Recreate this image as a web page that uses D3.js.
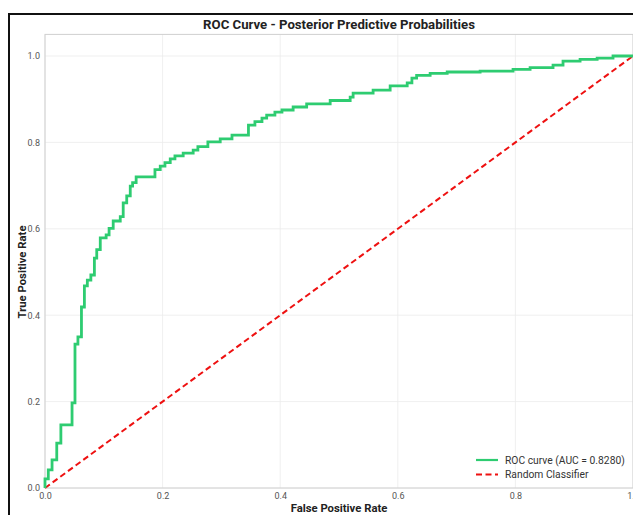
<!DOCTYPE html>
<html><head><meta charset="utf-8">
<script src="https://cdn.jsdelivr.net/npm/d3@7"></script>
<style>body{margin:0;background:#fff}svg{display:block}</style>
</head><body>
<svg id="c" width="633" height="515"></svg>
<script>
const fpr = [0,0.0056,0.012,0.020,0.027,0.046,0.051,0.056,0.062,0.067,0.072,0.078,0.084,0.088,0.094,0.104,0.109,0.116,0.128,0.133,0.139,0.145,0.149,0.155,0.187,0.196,0.204,0.213,0.221,0.235,0.252,0.260,0.277,0.298,0.318,0.346,0.357,0.369,0.377,0.391,0.403,0.422,0.445,0.485,0.519,0.524,0.558,0.587,0.616,0.624,0.632,0.655,0.684,0.740,0.796,0.825,0.864,0.881,0.910,0.939,0.966,1.0];
const tpr = [0,0.021,0.042,0.065,0.104,0.146,0.197,0.333,0.350,0.419,0.468,0.481,0.493,0.532,0.552,0.579,0.586,0.601,0.618,0.628,0.660,0.676,0.699,0.707,0.720,0.737,0.745,0.753,0.762,0.769,0.775,0.782,0.790,0.801,0.808,0.817,0.840,0.848,0.856,0.863,0.870,0.875,0.882,0.889,0.897,0.905,0.914,0.921,0.931,0.938,0.949,0.955,0.960,0.963,0.965,0.969,0.973,0.979,0.988,0.992,0.995,1.0];
const diagX = [0,1];
const diagY = [0,1];
const xTicks = [0,0.2,0.4,0.6,0.8,1.0];
const yTicks = [0,0.2,0.4,0.6,0.8,1.0];
const legendLabels = ["ROC curve (AUC = 0.8280)","Random Classifier"];
const titleText = "ROC Curve - Posterior Predictive Probabilities";

const svg = d3.select("#c");
const x = d3.scaleLinear().domain([0,1]).range([45,633]);
const y = d3.scaleLinear().domain([0,1.05]).range([488,488-1.05*432]);
const font = "Roboto, 'Liberation Sans', Arial, sans-serif";

// outer black frame
svg.append("path").attr("d","M9,516 L9,14 L640,14").attr("fill","none").attr("stroke","#111").attr("stroke-width",2);

// gridlines
svg.append("g").selectAll("line").data(xTicks).join("line")
  .attr("x1",d=>x(d)).attr("x2",d=>x(d)).attr("y1",y(0)).attr("y2",y(1.05))
  .attr("stroke","#ebebeb").attr("stroke-width",0.8);
svg.append("g").selectAll("line").data(yTicks).join("line")
  .attr("x1",x(0)).attr("x2",x(1)).attr("y1",d=>y(d)).attr("y2",d=>y(d))
  .attr("stroke","#ebebeb").attr("stroke-width",0.8);

// spines
svg.append("rect").attr("x",x(0)).attr("y",y(1.05)).attr("width",x(1)-x(0)).attr("height",y(0)-y(1.05))
  .attr("fill","none").attr("stroke","#d0d0d0").attr("stroke-width",1);

// axes tick labels
const xa = svg.append("g").attr("transform",`translate(0,${y(0)})`)
  .call(d3.axisBottom(x).tickValues(xTicks).tickFormat(d3.format(".1f")).tickSize(0).tickPadding(5));
xa.select(".domain").remove();
xa.selectAll("text").attr("fill","#555").attr("font-size","9px").attr("font-family",font);
const ya = svg.append("g").attr("transform",`translate(${x(0)},0)`)
  .call(d3.axisLeft(y).tickValues(yTicks).tickFormat(d3.format(".1f")).tickSize(0).tickPadding(5));
ya.select(".domain").remove();
ya.selectAll("text").attr("fill","#555").attr("font-size","9px").attr("font-family",font);

// diagonal
const line = d3.line().x(d=>x(d[0])).y(d=>y(d[1]));
svg.append("path").datum(diagX.map((v,i)=>[v,diagY[i]]))
  .attr("d",line).attr("fill","none").attr("stroke","#ee1111").attr("stroke-width",2).attr("stroke-dasharray","6,3.5");

// ROC curve
const roc = d3.line().x(d=>x(d[0])).y(d=>y(d[1])).curve(d3.curveStepBefore);
svg.append("path").datum(fpr.map((v,i)=>[v,tpr[i]]))
  .attr("d",roc).attr("fill","none").attr("stroke","#2ecc71").attr("stroke-width",2.8).attr("stroke-linejoin","miter");

// title & axis labels
svg.append("text").attr("x",339).attr("y",29).attr("text-anchor","middle")
  .attr("font-family",font).attr("font-weight","bold").attr("font-size","13.2px").attr("fill","#222").text(titleText);
svg.append("text").attr("x",339).attr("y",512).attr("text-anchor","middle")
  .attr("font-family",font).attr("font-weight","bold").attr("font-size","11.3px").attr("fill","#222").text("False Positive Rate");
svg.append("text").attr("transform","translate(26,272) rotate(-90)").attr("text-anchor","middle")
  .attr("font-family",font).attr("font-weight","bold").attr("font-size","11.3px").attr("fill","#222").text("True Positive Rate");

// legend
const leg = svg.append("g");
const colors = ["#2ecc71","#ee1111"];
legendLabels.forEach((lab,i)=>{
  const yy = 460 + i*14.5;
  leg.append("line").attr("x1",476).attr("x2",498).attr("y1",yy).attr("y2",yy)
    .attr("stroke",colors[i]).attr("stroke-width",2.2).attr("stroke-dasharray",i===1?"6,3.5":null);
  leg.append("text").attr("x",505).attr("y",yy+3.6).attr("font-family",font).attr("font-size","10.3px").attr("fill","#333").text(lab);
});
</script>
</body></html>
